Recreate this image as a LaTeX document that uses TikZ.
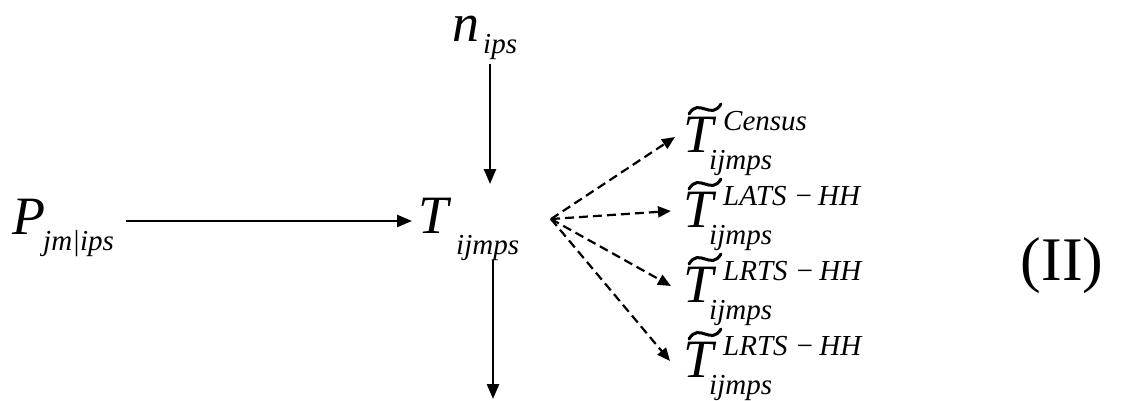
\documentclass[tikz,border=0pt]{standalone}
\usepackage{fontspec}
\setmainfont{Liberation Serif}
\usetikzlibrary{arrows.meta}

\tikzset{
  base/.style={anchor=base west, inner sep=0pt, font=\fontsize{54}{54}\selectfont\itshape},
  idx/.style={anchor=base west, inner sep=0pt, font=\fontsize{29}{29}\selectfont\itshape},
  flow/.style={line width=2.5pt, -{Triangle[length=15pt,width=12pt]}},
  split/.style={line width=2.2pt, dash pattern=on 9pt off 5pt, -{Triangle[length=13pt,width=11pt]}},
  tildemark/.pic={\draw[line width=3pt, line cap=round] (0,5) .. controls (10,-12) and (22,12) .. (32,-5);}
}

\newcommand\mminus{\char"2212}

\begin{document}
\begin{tikzpicture}[x=1pt, y=-1pt]
\useasboundingbox (0,0) rectangle (1134,401);

% inputs and the central flow
\node[base] (n) at (452,42) {n};
\node[idx]  (nsub) at (483,54) {ips};

\node[base] (P) at (12,234) {P};
\node[idx]  (Psub) at (43,250) {jm|ips};

\node[base] (T) at (418,233) {T};
\node[idx]  (Tsub) at (456,254) {ijmps};

% estimated tables
\foreach \name/\sup/\y in {c/Census/152, la/LATS \mminus\,HH/227, lr/LRTS \mminus\,HH/302, lrb/LRTS \mminus\,HH/377}{
  \node[base] (T\name) at (683,\y) {T};
  \node[idx]  (T\name sup) at (723,\y-22) {\sup};
  \node[idx]  (T\name sub) at (709,\y+17) {ijmps};
  \pic at (689,\y-43) {tildemark};
}

\node[inner sep=0pt, font=\fontsize{62}{62}\selectfont] (label) at (1062,266) {(II)};

% connector end points
\coordinate (n-out) at (490,64);
\coordinate (T-top) at (490,184);
\coordinate (P-out) at (126,221);
\coordinate (T-left) at (412,221);
\coordinate (T-out) at (493,260);
\coordinate (T-down) at (493,399);
\coordinate (hub) at (551,219);
\coordinate (c-in) at (675,137);
\coordinate (la-in) at (671,211);
\coordinate (lr-in) at (671,286);
\coordinate (lrb-in) at (670,361);

\draw[flow] (n-out) -- (T-top);
\draw[flow] (P-out) -- (T-left);
\draw[flow] (T-out) -- (T-down);

\draw[split] (hub) -- (c-in);
\draw[split] (hub) -- (la-in);
\draw[split] (hub) -- (lr-in);
\draw[split] (hub) -- (lrb-in);
\end{tikzpicture}
\end{document}
